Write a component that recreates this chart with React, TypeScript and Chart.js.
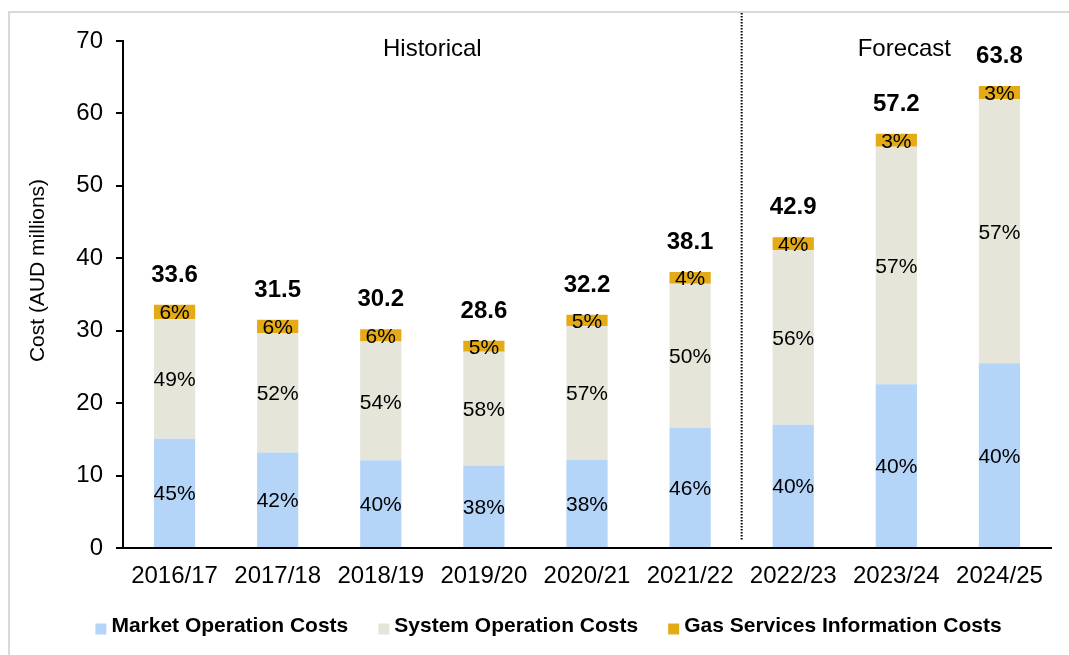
import React, { useEffect, useRef } from 'react';
import { Chart, registerables } from 'chart.js';

Chart.register(...registerables);

const FONT = "'Liberation Sans', Arial, Helvetica, sans-serif";

// ---- data ----
const categories = ['2016/17', '2017/18', '2018/19', '2019/20', '2020/21', '2021/22', '2022/23', '2023/24', '2024/25'];
const marketValues = [15.1, 13.2, 12.1, 11.4, 12.2, 16.6, 17.0, 22.6, 25.5];
const systemValues = [16.5, 16.5, 16.4, 15.7, 18.45, 19.9, 24.1, 32.8, 36.5];
const gasValues = [2.0, 1.8, 1.7, 1.5, 1.55, 1.6, 1.8, 1.8, 1.8];
const totals = [33.6, 31.5, 30.2, 28.6, 32.2, 38.1, 42.9, 57.2, 63.8];
const marketPct = [45, 42, 40, 38, 38, 46, 40, 40, 40];
const systemPct = [49, 52, 54, 58, 57, 50, 56, 57, 57];
const gasPct = [6, 6, 6, 5, 5, 4, 4, 3, 3];
const seriesNames = ['Market Operation Costs', 'System Operation Costs', 'Gas Services Information Costs'];
const seriesColors = ['#b4d5f8', '#e6e5da', '#e5ab17'];
const historicalCount = 6;
const periodNames = ['Historical', 'Forecast'];
const yAxisTitle = 'Cost (AUD millions)';
const yMin = 0;
const yMax = 70;
const yStep = 10;

const overlayPlugin = {
  id: 'overlay',
  afterDatasetsDraw(chart: any) {
    const { ctx, chartArea, scales } = chart;
    const xs = scales.x;
    const ys = scales.y;
    ctx.save();
    ctx.fillStyle = '#000';
    ctx.textAlign = 'center';
    ctx.textBaseline = 'alphabetic';

    // segment percentage labels
    const pctSets = [marketPct, systemPct, gasPct];
    const pf = 21;
    ctx.font = `${pf}px ${FONT}`;
    chart.data.datasets.forEach((_ds: any, di: number) => {
      const meta = chart.getDatasetMeta(di);
      meta.data.forEach((bar: any, i: number) => {
        const p = bar.getProps(['x', 'y', 'base'], true);
        const cy = (p.y + p.base) / 2;
        ctx.fillText(pctSets[di][i] + '%', p.x, cy + 0.36 * pf);
      });
    });

    // totals above bars
    ctx.font = `bold 24px ${FONT}`;
    totals.forEach((t, i) => {
      const px = xs.getPixelForValue(i);
      const py = ys.getPixelForValue(t);
      ctx.fillText(t.toFixed(1), px, py - 23);
    });

    // divider between historical and forecast
    const dx = (xs.getPixelForValue(historicalCount - 1) + xs.getPixelForValue(historicalCount)) / 2;
    ctx.beginPath();
    ctx.setLineDash([1.5, 1.5]);
    ctx.lineWidth = 2;
    ctx.strokeStyle = '#000';
    ctx.moveTo(dx, 0);
    ctx.lineTo(dx, chartArea.bottom - 8);
    ctx.stroke();
    ctx.setLineDash([]);

    // period labels
    ctx.font = `24px ${FONT}`;
    ctx.fillText(periodNames[0], (chartArea.left + dx) / 2, chartArea.top + 14.5);
    ctx.fillText(periodNames[1], (dx + chartArea.right) / 2 + 8, chartArea.top + 14.5);

    // y axis title
    ctx.save();
    ctx.font = `21px ${FONT}`;
    ctx.translate(34, (chartArea.top + chartArea.bottom) / 2 - 24);
    ctx.rotate(-Math.PI / 2);
    ctx.fillText(yAxisTitle, 0, 0);
    ctx.restore();

    // legend
    ctx.font = `bold 21px ${FONT}`;
    ctx.textAlign = 'left';
    const box = 11;
    const gapBoxText = 5;
    const gapItems = 30;
    const widths = chart.data.datasets.map((ds: any) => ctx.measureText(ds.label).width);
    const total = widths.reduce((a: number, b: number) => a + b, 0) + chart.data.datasets.length * (box + gapBoxText) + (chart.data.datasets.length - 1) * gapItems;
    let lx = 538.5 - total / 2;
    const boxTop = 610.5;
    const textBase = 619;
    chart.data.datasets.forEach((ds: any, i: number) => {
      ctx.fillStyle = ds.backgroundColor;
      ctx.fillRect(lx, boxTop, box, box);
      ctx.fillStyle = '#000';
      ctx.fillText(ds.label, lx + box + gapBoxText, textBase);
      lx += box + gapBoxText + widths[i] + gapItems;
    });

    ctx.restore();
  },
};

export default function App() {
  const ref = useRef<HTMLCanvasElement>(null);

  useEffect(() => {
    document.body.style.overflow = 'hidden';
    const canvas = ref.current;
    if (!canvas) return;
    const chart = new Chart(canvas, {
      type: 'bar',
      data: {
        labels: categories,
        datasets: [
          { label: seriesNames[0], data: marketValues, backgroundColor: seriesColors[0], borderWidth: 0, barPercentage: 0.4, categoryPercentage: 1.0, stack: 's' },
          { label: seriesNames[1], data: systemValues, backgroundColor: seriesColors[1], borderWidth: 0, barPercentage: 0.4, categoryPercentage: 1.0, stack: 's' },
          { label: seriesNames[2], data: gasValues, backgroundColor: seriesColors[2], borderWidth: 0, barPercentage: 0.4, categoryPercentage: 1.0, stack: 's' },
        ],
      },
      options: {
        responsive: false,
        animation: false,
        devicePixelRatio: 1,
        layout: { padding: { top: 28, right: 15, bottom: 55, left: 0 } },
        plugins: {
          legend: { display: false },
          tooltip: { enabled: false },
        },
        scales: {
          x: {
            stacked: true,
            grid: { display: false, drawTicks: false },
            border: { display: true, color: '#000', width: 2 },
            ticks: { color: '#000', font: { family: FONT, size: 24 }, padding: 14, maxRotation: 0, autoSkip: false },
            afterFit: (scale: any) => { scale.height = 50; },
          },
          y: {
            stacked: true,
            min: yMin,
            max: yMax,
            grid: { display: true, drawOnChartArea: false, drawTicks: true, tickLength: 7, color: '#000', lineWidth: 2 },
            border: { display: true, color: '#000', width: 2 },
            ticks: { stepSize: yStep, color: '#000', font: { family: FONT, size: 24 }, padding: 13 },
            afterFit: (scale: any) => { scale.width = 113; },
          },
        },
      },
      plugins: [overlayPlugin],
    });
    return () => chart.destroy();
  }, []);

  return (
    <div
      style={{
        position: 'absolute',
        left: 8,
        top: 11,
        width: 1059,
        height: 642,
        borderLeft: '2px solid #d9d9d9',
        borderTop: '2px solid #d9d9d9',
        background: '#fff',
      }}
    >
      <canvas ref={ref} width={1056} height={640} style={{ display: 'block', width: 1056, height: 640 }} />
    </div>
  );
}
